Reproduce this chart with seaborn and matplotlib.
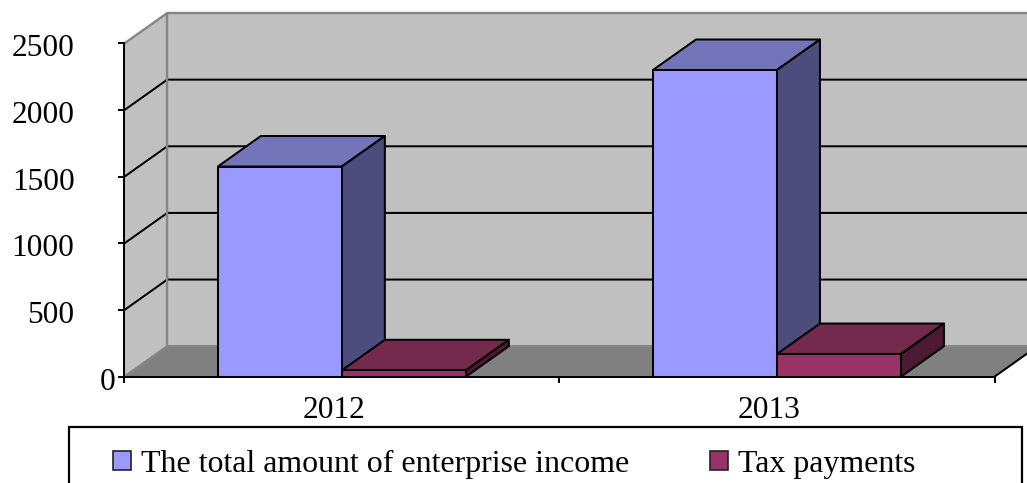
import matplotlib
matplotlib.use("Agg")
import matplotlib.pyplot as plt
import pandas as pd
import seaborn as sns
from matplotlib.patches import Patch, Polygon, Rectangle
from matplotlib.transforms import ScaledTranslation

years = ["2012", "2013"]
income = [1577, 2301]
tax = [48, 170]
series_names = ["The total amount of enterprise income", "Tax payments"]
y_ticks = [0, 500, 1000, 1500, 2000, 2500]

W, H = 1027, 483
DPI = 100
front = {"The total amount of enterprise income": "#9999FF", "Tax payments": "#993366"}
top_c = ["#7474BB", "#742A4D"]
side_c = ["#4D4D7D", "#4D1A33"]
WALL, FLOOR, EDGE = "#C0C0C0", "#808080", "#868686"
LW = 1.45
FS = 22.6

sns.set_theme(style="white")
plt.rcParams["font.family"] = ["Liberation Serif", "DejaVu Serif"]

df = pd.DataFrame({
    "year": years * 2,
    "series": [series_names[0]] * 2 + [series_names[1]] * 2,
    "value": income + tax,
})

fig = plt.figure(figsize=(W / DPI, H / DPI), dpi=DPI, facecolor="white")
ax = fig.add_axes([124.3 / W, (H - 376.7) / H, 870.2 / W, 333.2 / H], facecolor="none")

sns.barplot(data=df, x="year", y="value", hue="series", palette=front, width=0.57,
            gap=0, dodge=True, edgecolor="black", linewidth=LW, saturation=1,
            legend=False, ax=ax)

xmin, xmax, ymin, ymax = -0.5, 1.5, 0, 2500
ax.set_xlim(xmin, xmax)
ax.set_ylim(ymin, ymax)
DX = 43 / (870.2 / 2)
DY = 30.5 / 333.2 * 2500


def poly(pts, fc, ec="none", z=0.5, lw=LW):
    ax.add_patch(Polygon(pts, closed=True, facecolor=fc, edgecolor=ec, lw=lw,
                         zorder=z, clip_on=False, joinstyle="round"))


def line(xs, ys, c="black", z=0.7, lw=LW):
    ax.plot(xs, ys, color=c, lw=lw, zorder=z, clip_on=False, solid_capstyle="butt")


# walls and floor
poly([(xmin + DX, DY), (xmax + DX, DY), (xmax + DX, ymax + DY), (xmin + DX, ymax + DY)], WALL)
poly([(xmin, 0), (xmin + DX, DY), (xmin + DX, ymax + DY), (xmin, ymax)], WALL)
poly([(xmin, 0), (xmax, 0), (xmax + DX, DY), (xmin + DX, DY)], FLOOR)

for v in y_ticks[1:-1]:
    line([xmin, xmin + DX, xmax + DX], [v, v + DY, v + DY])
line([xmin, xmin + DX, xmax + DX], [ymax, ymax + DY, ymax + DY], c=EDGE, lw=1.7)
line([xmin + DX, xmin + DX], [DY, ymax + DY], c=EDGE, lw=1.7)
line([xmin, xmin + DX, xmax + DX], [0, DY, DY], c=EDGE, lw=1.7)
line([xmax, xmax + DX], [0, DY])

# extrude each bar drawn by seaborn
z = 2.0
bars = []
for s, container in enumerate(ax.containers):
    for b in container:
        bars.append((b.get_x(), b, s))
for _, b, s in sorted(bars, key=lambda t: t[0]):
    x0, x1, h = b.get_x(), b.get_x() + b.get_width(), b.get_height()
    poly([(x0, h), (x1, h), (x1 + DX, h + DY), (x0 + DX, h + DY)], top_c[s], "black", z)
    poly([(x1, 0), (x1 + DX, DY), (x1 + DX, h + DY), (x1, h)], side_c[s], "black", z)
    b.set_zorder(z + 0.1)
    b.set_clip_on(False)
    z += 0.2

# axes
sns.despine(ax=ax, top=True, right=True)
for sp in ("left", "bottom"):
    ax.spines[sp].set_color("black")
    ax.spines[sp].set_linewidth(LW)
    ax.spines[sp].set_zorder(9)
ax.set_xlabel("")
ax.set_ylabel("")
ax.set_yticks(y_ticks, [str(v) for v in y_ticks])
ax.tick_params(axis="y", length=4.3, width=LW, color="black", labelsize=FS,
               labelcolor="black", left=True)
for t, v in zip(ax.yaxis.get_major_ticks(), y_ticks):
    t.set_pad(2.0 if v == 0 else 31.5)
ax.set_xticks([0, 1], years)
ax.tick_params(axis="x", which="major", length=0, pad=14, labelsize=FS, labelcolor="black")
ax.set_xticks([-0.5, 0.5, 1.5], minor=True)
ax.tick_params(axis="x", which="minor", length=4.3, width=LW, color="black", bottom=True)
shift = ScaledTranslation(-8 / DPI, 0, fig.dpi_scale_trans)
for lab in ax.get_xticklabels():
    lab.set_transform(lab.get_transform() + shift)
shift_y = ScaledTranslation(0, -2 / DPI, fig.dpi_scale_trans)
for lab in ax.get_yticklabels():
    lab.set_transform(lab.get_transform() + shift_y)

# legend box runs past the lower edge of the image
fig.add_artist(Rectangle((68.5 / W, -0.1), (1021.7 - 68.5) / W, 0.1 + (H - 427.5) / H,
                         transform=fig.transFigure, facecolor="white", edgecolor="black",
                         lw=1.6, zorder=1))
handles = [Patch(facecolor=c, edgecolor="#222222", lw=1.2) for c in front.values()]
leg = fig.legend(handles, series_names, ncol=2, frameon=False, fontsize=22.95,
                 loc="upper left", bbox_to_anchor=(113 / W, (H - 450) / H),
                 borderpad=0, borderaxespad=0, handlelength=0.57, handleheight=0.55,
                 handletextpad=0.3, columnspacing=2.55, labelcolor="black")
leg.set_zorder(2)

fig.savefig("out.png", dpi=DPI)
